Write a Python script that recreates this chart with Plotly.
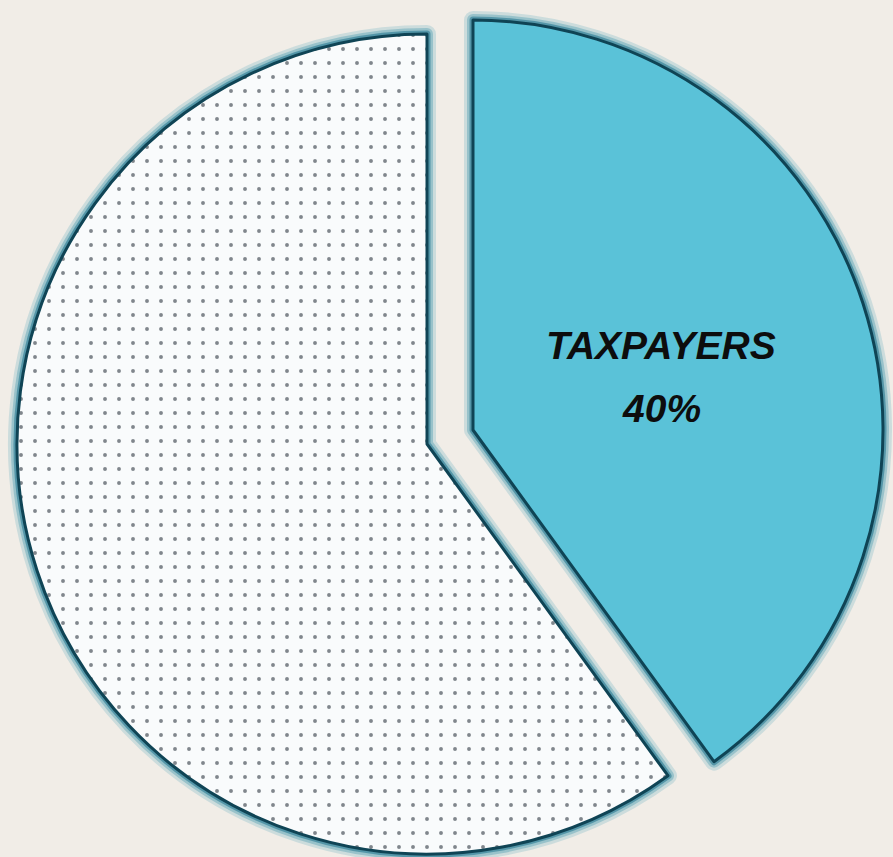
import plotly.graph_objects as go

labels = ["Taxpayers", "Others"]
values = [40, 60]

BG = "#f1ede7"
BLUE = "#5ac2d8"
LINE = "#0f4455"
CLEAR = "rgba(0,0,0,0)"

W, H = 893, 857

def dom_x(x0, x1):
    return [x0 / W, x1 / W]

def dom_y(y0, y1):
    return [1 - y1 / H, 1 - y0 / H]

# geometry (pixel boxes) of the two circles: unpulled and pulled-out slice
gray_box = dict(x=dom_x(17, 837), y=dom_y(34, 854))
blue_box = dict(x=dom_x(63, 883), y=dom_y(20, 840))

common = dict(labels=labels, values=values, sort=False, direction="clockwise",
              rotation=0, textinfo="none", hoverinfo="skip", showlegend=False)

fig = go.Figure()

# soft glow around the outlines
for w, col in [(18, "rgba(60,155,180,0.20)"), (12, "rgba(45,140,165,0.32)"),
               (7, "rgba(30,115,140,0.55)")]:
    fig.add_trace(go.Pie(**common, domain=gray_box,
                         marker=dict(colors=[CLEAR, CLEAR],
                                     line=dict(color=[CLEAR, col], width=[0, w]))))
    fig.add_trace(go.Pie(**common, domain=blue_box,
                         marker=dict(colors=[CLEAR, CLEAR],
                                     line=dict(color=[col, CLEAR], width=[w, 0]))))

# others slice (dotted)
fig.add_trace(go.Pie(**common, domain=gray_box,
                     marker=dict(colors=[CLEAR, "#f9fbfc"],
                                 line=dict(color=[CLEAR, LINE], width=[0, 3]),
                                 pattern=dict(shape=["", "."], fgcolor="#80868c",
                                              bgcolor="#f9fbfc", size=14, solidity=0.06,
                                              fillmode="replace"))))
# taxpayers slice (pulled out)
fig.add_trace(go.Pie(**common, domain=blue_box,
                     marker=dict(colors=[BLUE, CLEAR],
                                 line=dict(color=[LINE, CLEAR], width=[3, 0]))))

label_font = dict(family="Liberation Sans, Arial, sans-serif",
                  size=39, color="#0d0d0d", weight="bold", style="italic")
for txt, ypx in [(labels[0].upper(), 345), (f"{values[0]}%", 408)]:
    fig.add_annotation(x=661 / W, y=1 - ypx / H, xref="paper", yref="paper",
                       xanchor="center", yanchor="middle", text=txt,
                       showarrow=False, font=label_font)

fig.update_layout(width=W, height=H, paper_bgcolor=BG, plot_bgcolor=BG,
                  margin=dict(l=0, r=0, t=0, b=0))

fig.write_html("out.html")
